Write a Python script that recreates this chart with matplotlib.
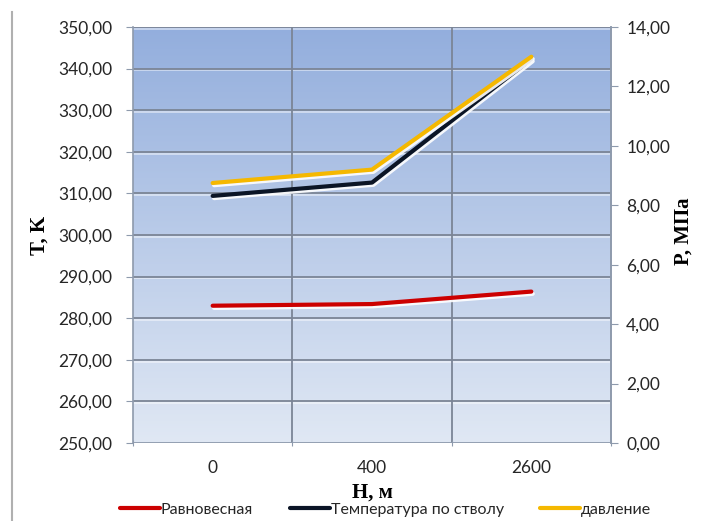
import numpy as np
import matplotlib
matplotlib.use("Agg")
import matplotlib.pyplot as plt
import matplotlib.patheffects as pe
from matplotlib.colors import LinearSegmentedColormap
from matplotlib.lines import Line2D
from matplotlib.ticker import FuncFormatter, MultipleLocator

# Depth categories and measured series
depths = ["0", "400", "2600"]
t_equilibrium = [283.0, 283.4, 286.4]      # K
t_wellbore = [309.4, 312.6, 342.3]         # K
pressure = [8.75, 9.2, 13.0]               # MPa

series_labels = ["Равновесная", "Температура по стволу", "давление"]

plt.rcParams["font.family"] = ["Lato", "DejaVu Sans"]

W, H = 725, 521
fig = plt.figure(figsize=(W / 100, H / 100), dpi=100)
ax = fig.add_axes([133 / W, 1 - 443 / H, (611 - 133) / W, (443 - 27) / H])

x = np.arange(len(depths))
ax.set_xlim(-0.5, len(depths) - 0.5)
ax.set_ylim(250, 350)

# vertical gradient fill of the plot area
grad = LinearSegmentedColormap.from_list("bg", ["#e0e8f4", "#93aedd"])
ax.imshow(np.linspace(0, 1, 256).reshape(-1, 1), cmap=grad, origin="lower",
          aspect="auto", extent=(-0.5, len(depths) - 0.5, 250, 350), zorder=0)

grid_col = "#7b8596"
grid_fx = [pe.SimpleLineShadow(offset=(0, -1.3), shadow_color="white", alpha=0.5), pe.Normal()]
for yv in np.arange(260, 351, 10):
    ax.axhline(yv, color=grid_col, lw=1.3, zorder=1, path_effects=grid_fx)
for xv in np.arange(0.5, len(depths) - 0.5, 1):
    ax.axvline(xv, color=grid_col, lw=1.3, zorder=1)
ax.axhline(250, color="#8e9aac", lw=1.3, zorder=1)

comma = FuncFormatter(lambda v, p: f"{v:.2f}".replace(".", ","))
ax.yaxis.set_major_locator(MultipleLocator(10))
ax.yaxis.set_major_formatter(comma)
ax.set_xticks(np.arange(-0.5, len(depths), 1))
ax.set_xticklabels([])
ax.set_xticks(x, minor=True)
ax.set_xticklabels(depths, minor=True)
ax.tick_params(axis="x", which="major", length=5, color="#8e9aac", direction="inout")
ax.tick_params(axis="x", which="minor", length=0, pad=12, labelsize=12.5, labelcolor="#262626")
ax.tick_params(axis="y", length=5, color="#8e9aac", labelsize=12.5, labelcolor="#262626", pad=10)

for s in ["top", "bottom"]:
    ax.spines[s].set_visible(False)
for s in ["left", "right"]:
    ax.spines[s].set_color("#8e9aac")
    ax.spines[s].set_linewidth(1.2)

shadow = [pe.SimpleLineShadow(offset=(1.0, -1.6), shadow_color="white", alpha=0.9), pe.Normal()]

l1, = ax.plot(x, t_equilibrium, color="#cc0000", lw=3, zorder=3,
              solid_capstyle="round", path_effects=shadow, label=series_labels[0])
l2, = ax.plot(x, t_wellbore, color="#0b1526", lw=3, zorder=3,
              solid_capstyle="round", path_effects=shadow, label=series_labels[1])

ax2 = ax.twinx()
ax2.set_ylim(0, 14)
ax2.yaxis.set_major_locator(MultipleLocator(2))
ax2.yaxis.set_major_formatter(comma)
ax2.tick_params(axis="y", length=5, color="#8e9aac", labelsize=12.5, labelcolor="#262626", pad=6)
for s in ["top", "bottom", "left"]:
    ax2.spines[s].set_visible(False)
ax2.spines["right"].set_color("#8e9aac")
ax2.spines["right"].set_linewidth(1.2)
l3, = ax2.plot(x, pressure, color="#f5b800", lw=3, zorder=3,
               solid_capstyle="round", path_effects=shadow, label=series_labels[2])

serif_bold = dict(family=["Liberation Serif", "DejaVu Serif"], weight="bold", size=15)
ax.set_ylabel("T, K", va="center", **serif_bold)
ax.yaxis.set_label_coords(-0.195, 0.5)
ax2.set_ylabel("P, МПа", va="center", rotation=90, **serif_bold)
ax2.yaxis.set_label_coords(1.151, 0.51)
ax.set_xlabel("H, м", labelpad=5, **serif_bold)

fig.legend(handles=[l1, l2, l3], loc="center", bbox_to_anchor=(0.532, 1 - 510 / H),
           ncol=3, frameon=False, fontsize=11.5, handlelength=2.5,
           handletextpad=0.05, columnspacing=2.3, labelcolor="#262626")

# frame line on the left edge of the chart area
fig.add_artist(Line2D([12 / W, 12 / W], [0, 1 - 12 / H], color="#b0b0b0", lw=1.5))

fig.savefig("out.png", dpi=100)
